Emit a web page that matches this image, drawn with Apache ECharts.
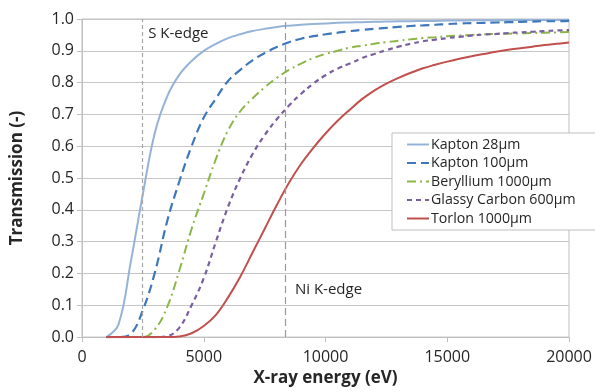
<!DOCTYPE html>
<html>
<head>
<meta charset="utf-8">
<script src="https://cdn.jsdelivr.net/npm/echarts@6/dist/echarts.min.js"></script>
<style>
  html, body { margin: 0; padding: 0; background: #fff; }
  #main { width: 595px; height: 392px; }
</style>
</head>
<body>
<div id="main"></div>
<script>
// energie (eV), stap 500
var energy = [1000, 1500, 2000, 2500, 3000, 3500, 4000, 4500, 5000, 5500, 6000, 6500, 7000, 7500,
  8000, 8500, 9000, 9500, 10000, 10500, 11000, 11500, 12000, 12500, 13000, 13500, 14000, 14500,
  15000, 15500, 16000, 16500, 17000, 17500, 18000, 18500, 19000, 19500, 20000];

// transmission per venster
var kapton28 = [0, 0.04, 0.235, 0.45, 0.645, 0.757, 0.825, 0.868, 0.90, 0.922, 0.94, 0.952, 0.962, 0.969,
  0.975, 0.979, 0.982, 0.984, 0.986, 0.988, 0.989, 0.990, 0.991, 0.992, 0.993, 0.993, 0.994, 0.994,
  0.995, 0.995, 0.996, 0.996, 0.996, 0.996, 0.997, 0.997, 0.997, 0.997, 0.997];
var kapton100 = [0, 0, 0.01, 0.085, 0.205, 0.365, 0.49, 0.60, 0.69, 0.75, 0.805, 0.84, 0.87, 0.893,
  0.912, 0.927, 0.938, 0.946, 0.952, 0.957, 0.962, 0.966, 0.969, 0.972, 0.975, 0.978, 0.98, 0.982,
  0.984, 0.986, 0.987, 0.988, 0.989, 0.990, 0.991, 0.992, 0.993, 0.993, 0.994];
var beryllium = [0, 0, 0, 0, 0.025, 0.095, 0.21, 0.34, 0.45, 0.56, 0.65, 0.71, 0.75, 0.785,
  0.815, 0.84, 0.86, 0.877, 0.89, 0.90, 0.91, 0.916, 0.922, 0.927, 0.932, 0.936, 0.94, 0.943,
  0.946, 0.948, 0.95, 0.952, 0.953, 0.954, 0.955, 0.956, 0.957, 0.958, 0.959];
var glassy = [0, 0, 0, 0, 0, 0.003, 0.03, 0.10, 0.185, 0.30, 0.41, 0.50, 0.575, 0.635,
  0.685, 0.728, 0.765, 0.797, 0.823, 0.844, 0.86, 0.877, 0.89, 0.902, 0.913, 0.922, 0.93, 0.935,
  0.94, 0.944, 0.948, 0.951, 0.953, 0.956, 0.958, 0.960, 0.962, 0.964, 0.965];
var torlon = [0, 0, 0, 0, 0, 0, 0.002, 0.012, 0.035, 0.07, 0.125, 0.19, 0.265, 0.34,
  0.415, 0.485, 0.545, 0.595, 0.64, 0.68, 0.715, 0.748, 0.775, 0.797, 0.815, 0.831, 0.845, 0.856,
  0.866, 0.875, 0.883, 0.89, 0.897, 0.903, 0.908, 0.913, 0.918, 0.922, 0.926];

var seriesNames = ['Kapton 28µm', 'Kapton 100µm', 'Beryllium 1000µm', 'Glassy Carbon 600µm', 'Torlon 1000µm'];
var edgeEnergy = [2472, 8333];
var edgeNames = ['S K-edge', 'Ni K-edge'];
var edgeLabelY = [0.953, 0.148];

function pairs(vals) {
  return energy.map(function (e, i) { return [e, vals[i]]; });
}

var chartDom = document.getElementById('main');
var myChart = echarts.init(chartDom);
var FONT = '"Open Sans", "Liberation Sans", sans-serif';

function curve(name, vals, color, type, width) {
  return {
    name: name,
    type: 'line',
    data: pairs(vals),
    smooth: 0.4,
    symbol: 'none',
    lineStyle: { color: color, width: width, type: type },
    itemStyle: { color: color },
    z: 3
  };
}

var series = [
  curve(seriesNames[0], kapton28, '#95b3d7', 'solid', 2),
  curve(seriesNames[1], kapton100, '#3f77bb', [9, 5], 2.2),
  curve(seriesNames[2], beryllium, '#8db64a', [9, 4, 2, 4], 2),
  curve(seriesNames[3], glassy, '#7a5fa0', [5, 4], 2.2),
  curve(seriesNames[4], torlon, '#c0504d', 'solid', 2)
];

// K-edges als markLine + tekst
series[0].markLine = {
  silent: true,
  symbol: 'none',
  label: { show: false },
  data: [
    { xAxis: edgeEnergy[0], lineStyle: { color: '#a6a6a6', type: [4, 3], width: 1.2 } },
    { xAxis: edgeEnergy[1], lineStyle: { color: '#9a9a9a', type: [7, 4], width: 1.2 } }
  ]
};
series[0].markPoint = {
  silent: true,
  symbol: 'circle',
  symbolSize: 0,
  label: {
    show: true,
    position: 'right',
    fontFamily: FONT,
    fontSize: 15,
    color: '#262626',
    formatter: function (p) { return p.name; }
  },
  data: [
    { name: edgeNames[0], coord: [edgeEnergy[0], edgeLabelY[0]], label: { distance: 6 } },
    { name: edgeNames[1], coord: [edgeEnergy[1], edgeLabelY[1]], label: { distance: 10 } }
  ]
};

var option = {
  animation: false,
  backgroundColor: '#fff',
  grid: {
    left: 82, right: 26, top: 19, bottom: 51,
    show: true, borderColor: '#bfbfbf', borderWidth: 1
  },
  legend: {
    data: seriesNames,
    orient: 'vertical',
    left: 392,
    top: 133,
    backgroundColor: '#fff',
    borderColor: '#bfbfbf',
    borderWidth: 1,
    padding: [3, 20, 3, 14],
    itemWidth: 22,
    itemHeight: 10,
    itemGap: 1.5,
    itemStyle: { opacity: 0 },
    textStyle: { fontFamily: FONT, fontSize: 14.2, color: '#262626', lineHeight: 17, padding: [0, 0, 0, -3] }
  },
  xAxis: {
    type: 'value',
    min: 0, max: 20000, interval: 5000,
    name: 'X-ray energy (eV)',
    nameLocation: 'middle',
    nameGap: 31,
    nameTextStyle: { fontFamily: FONT, fontSize: 17, fontWeight: 'bold', color: '#262626' },
    axisLine: { show: true, lineStyle: { color: '#bfbfbf' } },
    axisTick: { show: true, inside: false, length: 5, lineStyle: { color: '#bfbfbf' } },
    axisLabel: {
      fontFamily: FONT, fontSize: 16, color: '#262626', margin: 12,
      formatter: function (v) { return String(v); }
    },
    splitLine: { show: false }
  },
  yAxis: {
    type: 'value',
    min: 0, max: 1, interval: 0.1,
    name: 'Transmission (-)',
    nameLocation: 'middle',
    nameRotate: 90,
    nameGap: 56,
    nameTextStyle: { fontFamily: FONT, fontSize: 17, fontWeight: 'bold', color: '#262626' },
    axisLine: { show: true, lineStyle: { color: '#bfbfbf' } },
    axisTick: { show: true, inside: false, length: 5, lineStyle: { color: '#bfbfbf' } },
    axisLabel: {
      fontFamily: FONT, fontSize: 16, color: '#262626', margin: 8,
      formatter: function (v) { return v.toFixed(1); }
    },
    splitLine: { show: true, lineStyle: { color: '#c6c6c6', width: 1 } }
  },
  series: series
};

option && myChart.setOption(option);
</script>
</body>
</html>
